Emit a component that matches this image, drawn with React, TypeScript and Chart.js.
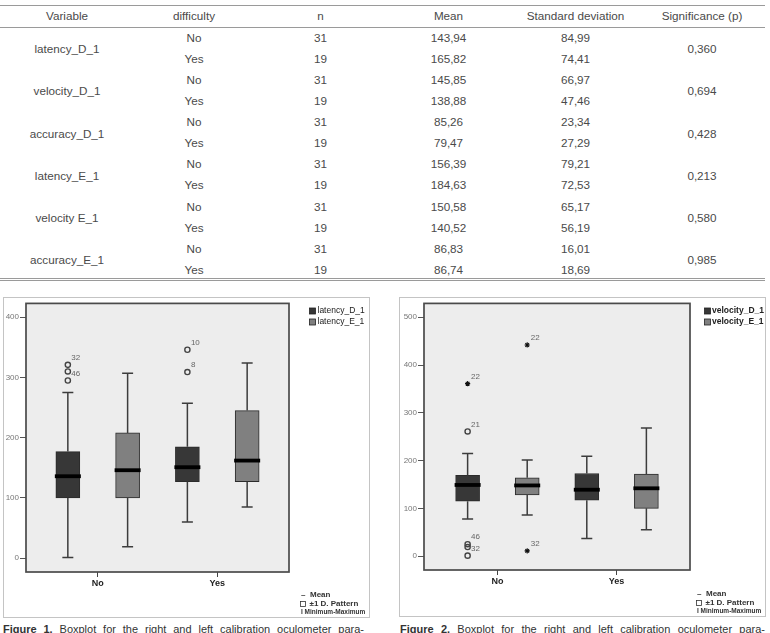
import React, { useEffect, useRef } from 'react';
import { Chart, registerables } from 'chart.js';

Chart.register(...registerables);
Chart.defaults.font.family = '"Liberation Sans", Arial, Helvetica, sans-serif';

// ---------------- Table data ----------------
const tableHeaders = ['Variable', 'difficulty', 'n', 'Mean', 'Standard deviation', 'Significance (p)'];
const tableVariables = ['latency_D_1', 'velocity_D_1', 'accuracy_D_1', 'latency_E_1', 'velocity E_1', 'accuracy_E_1'];
const difficultyGroups = ['No', 'Yes'];
const groupN = [31, 19];
const meanValues = [143.94, 165.82, 145.85, 138.88, 85.26, 79.47, 156.39, 184.63, 150.58, 140.52, 86.83, 86.74];
const sdValues = [84.99, 74.41, 66.97, 47.46, 23.34, 27.29, 79.21, 72.53, 65.17, 56.19, 16.01, 18.69];
const pValues = [0.36, 0.694, 0.428, 0.213, 0.58, 0.985];

// ---------------- Boxplot data ----------------
const boxCategories = ['No', 'Yes'];
const yTicksFig1 = [0, 100, 200, 300, 400];
const yTicksFig2 = [0, 100, 200, 300, 400, 500];
// per category: [minimum, q1, median, q3, maximum]
const latencyD1 = [[1, 100, 136, 177, 275], [60, 127, 151, 185, 257]];
const latencyE1 = [[19, 100, 146, 208, 307], [85, 127, 162, 245, 324]];
const velocityD1 = [[78, 115, 149, 169, 215], [37, 117, 139, 173, 209]];
const velocityE1 = [[86, 128, 148, 164, 201], [55, 100, 142, 172, 268]];
// outliers: [categoryIndex, value, case label, extreme (star)]
const latencyD1Outliers: any[] = [[0, 321, '32', false], [0, 310, '', false], [0, 295, '46', false], [1, 346, '10', false], [1, 309, '8', false]];
const latencyE1Outliers: any[] = [];
const velocityD1Outliers: any[] = [[0, 361, '22', true], [0, 261, '21', false], [0, 25, '46', false], [0, 19, '', false], [0, 1, '32', false]];
const velocityE1Outliers: any[] = [[0, 442, '22', true], [0, 11, '32', true]];

const seriesOffsets = [-0.25, 0.25];
const seriesFills = ['#373737', '#808080'];
const FONT = '"Liberation Sans", Arial, Helvetica, sans-serif';

const figures = [
  {
    key: 'f1', left: 3, top: 297, width: 367, height: 321,
    series: [
      { label: 'latency_D_1', box: latencyD1, outliers: latencyD1Outliers },
      { label: 'latency_E_1', box: latencyE1, outliers: latencyE1Outliers },
    ],
    yTicks: yTicksFig1, yMin: -23, yMax: 423, xMin: -0.6, xMax: 1.6,
    yAxisWidth: 22, padding: { top: 4, right: 80, bottom: 25, left: 0 },
    legendSq: 308.5, legendText: 313.5, legendWeight: 'normal',
    captionNum: 'Figure 1.',
    captionLeft: 3, captionWidth: 361,
  },
  {
    key: 'f2', left: 399, top: 297, width: 367, height: 320,
    series: [
      { label: 'velocity_D_1', box: velocityD1, outliers: velocityD1Outliers },
      { label: 'velocity_E_1', box: velocityE1, outliers: velocityE1Outliers },
    ],
    yTicks: yTicksFig2, yMin: -29, yMax: 529, xMin: -0.616, xMax: 1.616,
    yAxisWidth: 24, padding: { top: 4, right: 75, bottom: 26, left: 0 },
    legendSq: 307.5, legendText: 312, legendWeight: 'bold',
    captionNum: 'Figure 2.',
    captionLeft: 400, captionWidth: 365,
  },
];
const captionText = ' Boxplot for the right and left calibration oculometer para-';

function BoxFigure({ fig }: { fig: any }) {
  const ref = useRef<HTMLCanvasElement>(null);
  const cw = fig.width - 2;
  const chh = fig.height - 2;

  useEffect(() => {
    const canvas = ref.current!;
    const datasets: any[] = fig.series.map((s: any, si: number) => ({
      type: 'bar',
      label: s.label,
      data: s.box.map((b: number[], ci: number) => ({ x: ci + seriesOffsets[si], y: [b[1], b[3]] })),
      backgroundColor: seriesFills[si],
      borderColor: '#2b2b2b',
      borderWidth: 1,
      borderSkipped: false,
      barThickness: 24,
      grouped: false,
    }));
    const circles: any[] = [];
    const stars: any[] = [];
    fig.series.forEach((s: any, si: number) =>
      s.outliers.forEach((o: any) => {
        const p = { x: o[0] + seriesOffsets[si], y: o[1] };
        (o[3] ? stars : circles).push(p);
      })
    );
    datasets.push({
      type: 'scatter', label: 'outliers', data: circles, pointStyle: 'circle', pointRadius: 2.6,
      borderColor: '#444', borderWidth: 1.4, backgroundColor: 'rgba(0,0,0,0)', showLine: false,
    });
    datasets.push({
      type: 'scatter', label: 'extremes', data: stars, pointStyle: 'star', pointRadius: 2.6,
      borderColor: '#111', borderWidth: 1.1, backgroundColor: 'rgba(0,0,0,0)', showLine: false,
    });

    const extras = {
      id: 'boxExtras',
      beforeDraw(chart: any) {
        const a = chart.chartArea;
        const ctx = chart.ctx;
        ctx.save();
        ctx.fillStyle = '#ededed';
        ctx.fillRect(a.left, a.top, a.width, a.height);
        ctx.restore();
      },
      afterDatasetsDraw(chart: any) {
        const ctx = chart.ctx;
        const xs = chart.scales.x;
        const ys = chart.scales.y;
        const a = chart.chartArea;
        ctx.save();
        fig.series.forEach((s: any, si: number) => {
          const meta = chart.getDatasetMeta(si);
          s.box.forEach((b: number[], ci: number) => {
            const el: any = meta.data[ci];
            const cx = el.x;
            const w = el.width;
            const [mn, q1, md, q3, mx] = b.map((v) => ys.getPixelForValue(v));
            const cap = 5.5;
            ctx.strokeStyle = '#3c3c3c';
            ctx.lineWidth = 1.5;
            ctx.beginPath();
            ctx.moveTo(cx, q3); ctx.lineTo(cx, mx);
            ctx.moveTo(cx - cap, mx); ctx.lineTo(cx + cap, mx);
            ctx.moveTo(cx, q1); ctx.lineTo(cx, mn);
            ctx.moveTo(cx - cap, mn); ctx.lineTo(cx + cap, mn);
            ctx.stroke();
            ctx.fillStyle = '#000';
            ctx.fillRect(cx - w / 2 - 1, md - 1.9, w + 2, 3.8);
          });
          ctx.font = `8px ${FONT}`;
          ctx.fillStyle = '#666';
          ctx.textAlign = 'left';
          ctx.textBaseline = 'middle';
          s.outliers.forEach((o: any) => {
            if (!o[2]) return;
            const px = xs.getPixelForValue(o[0] + seriesOffsets[si]);
            const py = ys.getPixelForValue(o[1]);
            ctx.fillText(o[2], px + 3.5, py - 7);
          });
        });
        ctx.strokeStyle = '#4a4a4a';
        ctx.lineWidth = 1.7;
        ctx.strokeRect(a.left, a.top, a.width, a.height);
        ctx.restore();
      },
      afterDraw(chart: any) {
        const ctx = chart.ctx;
        const H = chart.height;
        ctx.save();
        ctx.textAlign = 'left';
        ctx.textBaseline = 'middle';
        // series legend
        ctx.font = `${fig.legendWeight} 8.5px ${FONT}`;
        fig.series.forEach((s: any, si: number) => {
          const ds = chart.data.datasets[si];
          const y = 13 + si * 11;
          ctx.fillStyle = ds.backgroundColor;
          ctx.fillRect(fig.legendSq - 3, y - 3, 6, 6);
          ctx.strokeStyle = '#222';
          ctx.lineWidth = 0.8;
          ctx.strokeRect(fig.legendSq - 3, y - 3, 6, 6);
          ctx.fillStyle = '#222';
          ctx.fillText(ds.label, fig.legendText, y);
        });
        // key
        const kx = 296;
        ctx.fillStyle = '#333';
        ctx.font = `bold 8px ${FONT}`;
        ctx.fillText('–', kx + 1, H - 22);
        ctx.fillText('Mean', kx + 10, H - 22);
        ctx.strokeStyle = '#333';
        ctx.lineWidth = 0.8;
        ctx.strokeRect(kx + 0.5, H - 15.5, 5, 5);
        ctx.fillText('±1 D. Pattern', kx + 9.5, H - 13);
        ctx.font = `bold 6.5px ${FONT}`;
        ctx.fillText('I Minimum-Maximum', kx + 1, H - 4.5);
        ctx.restore();
      },
    };

    const chart = new Chart(canvas, {
      type: 'bar',
      data: { datasets },
      plugins: [extras],
      options: {
        responsive: false,
        animation: false,
        events: [],
        layout: { padding: fig.padding },
        plugins: { legend: { display: false }, tooltip: { enabled: false } },
        scales: {
          x: {
            type: 'linear',
            min: fig.xMin,
            max: fig.xMax,
            offset: false,
            afterBuildTicks: (scale: any) => {
              scale.ticks = boxCategories.map((_c, i) => ({ value: i }));
            },
            afterFit: (scale: any) => {
              scale.height = 20;
              scale.paddingLeft = 0;
              scale.paddingRight = 0;
            },
            ticks: {
              callback: (v: any) => boxCategories[v] ?? '',
              font: { size: 9, weight: 'bold' },
              color: '#222',
              padding: 1,
              maxRotation: 0,
              autoSkip: false,
            },
            grid: { display: true, drawOnChartArea: false, drawTicks: true, tickLength: 5, color: '#444', offset: false },
            border: { display: false },
          },
          y: {
            type: 'linear',
            min: fig.yMin,
            max: fig.yMax,
            afterBuildTicks: (scale: any) => {
              scale.ticks = fig.yTicks.map((v: number) => ({ value: v }));
            },
            afterFit: (scale: any) => {
              scale.width = fig.yAxisWidth;
              scale.paddingTop = 0;
              scale.paddingBottom = 0;
            },
            ticks: { font: { size: 8 }, color: '#777', padding: 1 },
            grid: { display: true, drawOnChartArea: false, drawTicks: true, tickLength: 6, color: '#555' },
            border: { display: false },
          },
        },
      } as any,
    });
    return () => chart.destroy();
  }, []);

  return (
    <div
      style={{
        position: 'absolute', left: fig.left, top: fig.top, width: fig.width, height: fig.height,
        border: '1px solid #c4c4c4', boxSizing: 'border-box', background: '#fff',
      }}
    >
      <canvas ref={ref} width={cw} height={chh} style={{ position: 'absolute', left: 0, top: 0, width: cw, height: chh }} />
    </div>
  );
}

const fmt = (v: number, d: number) => v.toFixed(d).replace('.', ',');

export default function App() {
  const colX = [67, 194, 320.5, 448.5, 575.5, 702];
  const rowY0 = 37.7;
  const rowStep = 21.1;
  const cell = (text: string, x: number, y: number, key: string) => (
    <div
      key={key}
      style={{
        position: 'absolute', left: x, top: y, transform: 'translate(-50%, -50%)', whiteSpace: 'nowrap',
        fontSize: 11.7, lineHeight: '14px', color: '#4a4a4a',
      }}
    >
      {text}
    </div>
  );
  const cells: any[] = [];
  tableHeaders.forEach((h, i) => cells.push(cell(h, colX[i], 16, 'h' + i)));
  tableVariables.forEach((v, vi) => {
    const yMid = rowY0 + (vi * 2 + 0.5) * rowStep + 1;
    cells.push(cell(v, colX[0], yMid, 'v' + vi));
    cells.push(cell(fmt(pValues[vi], 3), colX[5], yMid, 'p' + vi));
    difficultyGroups.forEach((g, gi) => {
      const r = vi * 2 + gi;
      const y = rowY0 + r * rowStep;
      cells.push(cell(g, colX[1], y, 'g' + r));
      cells.push(cell(String(groupN[gi]), colX[2], y, 'n' + r));
      cells.push(cell(fmt(meanValues[r], 2), colX[3], y, 'm' + r));
      cells.push(cell(fmt(sdValues[r], 2), colX[4], y, 's' + r));
    });
  });
  const hline = (y: number, key: string, h = 1) => (
    <div key={key} style={{ position: 'absolute', left: 0, top: y, width: 765, height: h, background: '#9a9a9a' }} />
  );

  return (
    <div
      style={{
        position: 'absolute', left: 0, top: 0, width: 770, height: 633, overflow: 'hidden', background: '#fff',
        fontFamily: FONT,
      }}
    >
      {hline(5, 'l1')}
      {hline(26.5, 'l2')}
      {hline(277.5, 'l3')}
      {hline(280, 'l4')}
      {cells}
      {figures.map((f) => (
        <BoxFigure key={f.key} fig={f} />
      ))}
      {figures.map((f) => (
        <div
          key={'c' + f.key}
          style={{
            position: 'absolute', left: f.captionLeft, top: 623, width: f.captionWidth, fontSize: 11,
            lineHeight: '13px', color: '#333', textAlign: 'justify', textAlignLast: 'justify', whiteSpace: 'nowrap',
          } as any}
        >
          <b>{f.captionNum}</b>
          {captionText}
        </div>
      ))}
    </div>
  );
}
